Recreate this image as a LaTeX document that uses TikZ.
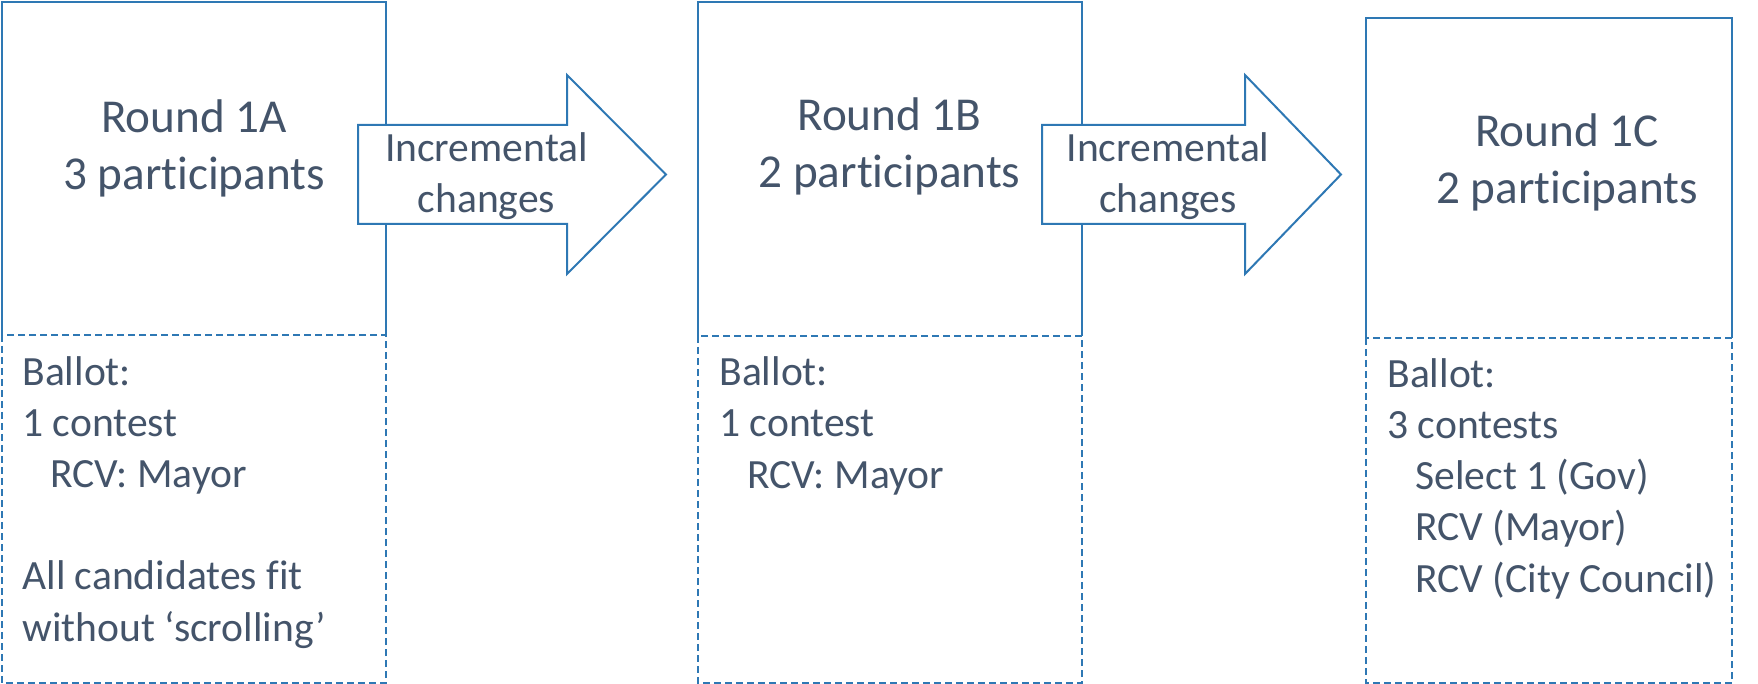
\documentclass[tikz,border=0pt]{standalone}
\usepackage{fontspec}
\setmainfont{Carlito}[Ligatures={TeX,NoCommon}]
\definecolor{bord}{HTML}{2E78B4}
\definecolor{txt}{HTML}{44546A}
\tikzset{
  solidedge/.style={draw=bord, line width=1.2pt},
  dashedge/.style={draw=bord, line width=1pt, dash pattern=on 3.5pt off 2pt},
  blockarrow/.style={draw=bord, line width=1pt, fill=white, line join=miter},
  titletext/.style={font=\fontsize{23.6pt}{28.5pt}\selectfont, text=txt, align=center, inner sep=0pt, anchor=base},
  arrowtext/.style={font=\fontsize{20.8pt}{25.5pt}\selectfont, text=txt, align=center, inner sep=0pt, anchor=base},
  bodytext/.style={font=\fontsize{20.8pt}{25.6pt}\selectfont, text=txt, align=left, inner sep=0pt, anchor=base west},
}
\newcommand{\ind}{\hspace*{14pt}}
\begin{document}
\begin{tikzpicture}[x=0.5pt,y=-0.5pt]
\useasboundingbox (0,0) rectangle (1758,684);
% ---- Box A
\coordinate (A-nw) at (2,2);
\coordinate (A-ne) at (386,2);
\coordinate (A-mw) at (2,335);
\coordinate (A-me) at (386,335);
\coordinate (A-se) at (386,683);
\draw[solidedge] (A-mw) -- (A-nw) -- (A-ne) -- (A-me);
\draw[dashedge] (A-mw) rectangle (A-se);
% ---- Box B
\coordinate (B-nw) at (698,2);
\coordinate (B-ne) at (1082,2);
\coordinate (B-mw) at (698,336);
\coordinate (B-me) at (1082,336);
\coordinate (B-se) at (1082,683);
\draw[solidedge] (B-mw) -- (B-nw) -- (B-ne) -- (B-me);
\draw[dashedge] (B-mw) rectangle (B-se);
% ---- Box C
\coordinate (C-nw) at (1366,18);
\coordinate (C-ne) at (1732,18);
\coordinate (C-mw) at (1366,338);
\coordinate (C-me) at (1732,338);
\coordinate (C-se) at (1732,683);
\draw[solidedge] (C-mw) -- (C-nw) -- (C-ne) -- (C-me);
\draw[dashedge] (C-mw) rectangle (C-se);
% ---- Arrow 1
\draw[blockarrow] (358,125) -- (567,125) -- (567,75) -- (666,174.5) -- (567,274) -- (567,224) -- (358,224) -- cycle;
% ---- Arrow 2
\draw[blockarrow] (1042,125) -- (1245,125) -- (1245,75) -- (1341,174.5) -- (1245,274) -- (1245,224) -- (1042,224) -- cycle;
% ---- Titles (anchored at the baseline of their last line)
\node[titletext] (titleA) at (194,190) {Round 1A\\3 participants};
\node[titletext] (titleB) at (889.5,188) {Round 1B\\2 participants};
\node[titletext] (titleC) at (1567,204) {Round 1C\\2 participants};
% ---- Arrow labels
\node[arrowtext] (arrA) at (486.5,213) {Incremental\\changes};
\node[arrowtext] (arrB) at (1168,213) {Incremental\\changes};
% ---- Bodies
\node[bodytext] (bodyA) at (22,641) {Ballot:\\1 contest\\\ind RCV: Mayor\\[25.6pt]All candidates fit\\without ‘scrolling’};
\node[bodytext] (bodyB) at (719,488) {Ballot:\\1 contest\\\ind RCV: Mayor};
\node[bodytext] (bodyC) at (1387,592) {Ballot:\\3 contests\\\ind Select 1 (Gov)\\\ind RCV (Mayor)\\\ind RCV (City Council)};
\end{tikzpicture}
\end{document}
